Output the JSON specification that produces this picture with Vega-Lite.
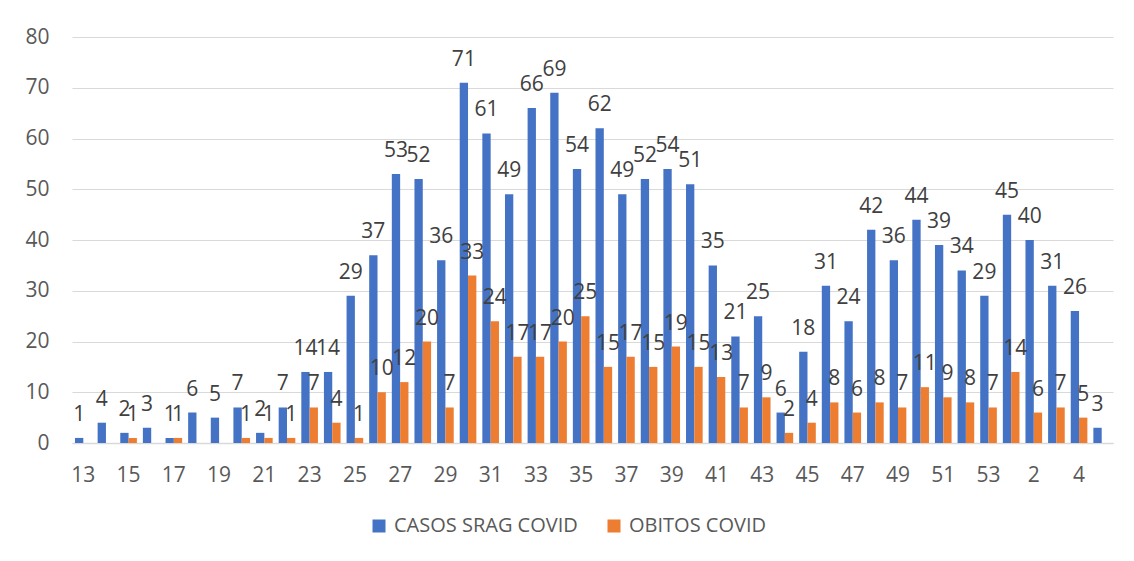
{
  "$schema": "https://vega.github.io/schema/vega-lite/v6.json",
  "width": 1041,
  "height": 406,
  "autosize": {"type": "none"},
  "padding": {"left": 72, "top": 37, "right": 21, "bottom": 118},
  "background": "white",
  "config": {
    "view": {"stroke": null},
    "font": "Open Sans"
  },
  "data": {
    "values": [
      {"semana": "13", "serie": "CASOS SRAG COVID", "valor": 1},
      {"semana": "14", "serie": "CASOS SRAG COVID", "valor": 4},
      {"semana": "15", "serie": "CASOS SRAG COVID", "valor": 2},
      {"semana": "15", "serie": "OBITOS COVID", "valor": 1},
      {"semana": "16", "serie": "CASOS SRAG COVID", "valor": 3},
      {"semana": "17", "serie": "CASOS SRAG COVID", "valor": 1},
      {"semana": "17", "serie": "OBITOS COVID", "valor": 1},
      {"semana": "18", "serie": "CASOS SRAG COVID", "valor": 6},
      {"semana": "19", "serie": "CASOS SRAG COVID", "valor": 5},
      {"semana": "20", "serie": "CASOS SRAG COVID", "valor": 7},
      {"semana": "20", "serie": "OBITOS COVID", "valor": 1},
      {"semana": "21", "serie": "CASOS SRAG COVID", "valor": 2},
      {"semana": "21", "serie": "OBITOS COVID", "valor": 1},
      {"semana": "22", "serie": "CASOS SRAG COVID", "valor": 7},
      {"semana": "22", "serie": "OBITOS COVID", "valor": 1},
      {"semana": "23", "serie": "CASOS SRAG COVID", "valor": 14},
      {"semana": "23", "serie": "OBITOS COVID", "valor": 7},
      {"semana": "24", "serie": "CASOS SRAG COVID", "valor": 14},
      {"semana": "24", "serie": "OBITOS COVID", "valor": 4},
      {"semana": "25", "serie": "CASOS SRAG COVID", "valor": 29},
      {"semana": "25", "serie": "OBITOS COVID", "valor": 1},
      {"semana": "26", "serie": "CASOS SRAG COVID", "valor": 37},
      {"semana": "26", "serie": "OBITOS COVID", "valor": 10},
      {"semana": "27", "serie": "CASOS SRAG COVID", "valor": 53},
      {"semana": "27", "serie": "OBITOS COVID", "valor": 12},
      {"semana": "28", "serie": "CASOS SRAG COVID", "valor": 52},
      {"semana": "28", "serie": "OBITOS COVID", "valor": 20},
      {"semana": "29", "serie": "CASOS SRAG COVID", "valor": 36},
      {"semana": "29", "serie": "OBITOS COVID", "valor": 7},
      {"semana": "30", "serie": "CASOS SRAG COVID", "valor": 71},
      {"semana": "30", "serie": "OBITOS COVID", "valor": 33},
      {"semana": "31", "serie": "CASOS SRAG COVID", "valor": 61},
      {"semana": "31", "serie": "OBITOS COVID", "valor": 24},
      {"semana": "32", "serie": "CASOS SRAG COVID", "valor": 49},
      {"semana": "32", "serie": "OBITOS COVID", "valor": 17},
      {"semana": "33", "serie": "CASOS SRAG COVID", "valor": 66},
      {"semana": "33", "serie": "OBITOS COVID", "valor": 17},
      {"semana": "34", "serie": "CASOS SRAG COVID", "valor": 69},
      {"semana": "34", "serie": "OBITOS COVID", "valor": 20},
      {"semana": "35", "serie": "CASOS SRAG COVID", "valor": 54},
      {"semana": "35", "serie": "OBITOS COVID", "valor": 25},
      {"semana": "36", "serie": "CASOS SRAG COVID", "valor": 62},
      {"semana": "36", "serie": "OBITOS COVID", "valor": 15},
      {"semana": "37", "serie": "CASOS SRAG COVID", "valor": 49},
      {"semana": "37", "serie": "OBITOS COVID", "valor": 17},
      {"semana": "38", "serie": "CASOS SRAG COVID", "valor": 52},
      {"semana": "38", "serie": "OBITOS COVID", "valor": 15},
      {"semana": "39", "serie": "CASOS SRAG COVID", "valor": 54},
      {"semana": "39", "serie": "OBITOS COVID", "valor": 19},
      {"semana": "40", "serie": "CASOS SRAG COVID", "valor": 51},
      {"semana": "40", "serie": "OBITOS COVID", "valor": 15},
      {"semana": "41", "serie": "CASOS SRAG COVID", "valor": 35},
      {"semana": "41", "serie": "OBITOS COVID", "valor": 13},
      {"semana": "42", "serie": "CASOS SRAG COVID", "valor": 21},
      {"semana": "42", "serie": "OBITOS COVID", "valor": 7},
      {"semana": "43", "serie": "CASOS SRAG COVID", "valor": 25},
      {"semana": "43", "serie": "OBITOS COVID", "valor": 9},
      {"semana": "44", "serie": "CASOS SRAG COVID", "valor": 6},
      {"semana": "44", "serie": "OBITOS COVID", "valor": 2},
      {"semana": "45", "serie": "CASOS SRAG COVID", "valor": 18},
      {"semana": "45", "serie": "OBITOS COVID", "valor": 4},
      {"semana": "46", "serie": "CASOS SRAG COVID", "valor": 31},
      {"semana": "46", "serie": "OBITOS COVID", "valor": 8},
      {"semana": "47", "serie": "CASOS SRAG COVID", "valor": 24},
      {"semana": "47", "serie": "OBITOS COVID", "valor": 6},
      {"semana": "48", "serie": "CASOS SRAG COVID", "valor": 42},
      {"semana": "48", "serie": "OBITOS COVID", "valor": 8},
      {"semana": "49", "serie": "CASOS SRAG COVID", "valor": 36},
      {"semana": "49", "serie": "OBITOS COVID", "valor": 7},
      {"semana": "50", "serie": "CASOS SRAG COVID", "valor": 44},
      {"semana": "50", "serie": "OBITOS COVID", "valor": 11},
      {"semana": "51", "serie": "CASOS SRAG COVID", "valor": 39},
      {"semana": "51", "serie": "OBITOS COVID", "valor": 9},
      {"semana": "52", "serie": "CASOS SRAG COVID", "valor": 34},
      {"semana": "52", "serie": "OBITOS COVID", "valor": 8},
      {"semana": "53", "serie": "CASOS SRAG COVID", "valor": 29},
      {"semana": "53", "serie": "OBITOS COVID", "valor": 7},
      {"semana": "1", "serie": "CASOS SRAG COVID", "valor": 45},
      {"semana": "1", "serie": "OBITOS COVID", "valor": 14},
      {"semana": "2", "serie": "CASOS SRAG COVID", "valor": 40},
      {"semana": "2", "serie": "OBITOS COVID", "valor": 6},
      {"semana": "3", "serie": "CASOS SRAG COVID", "valor": 31},
      {"semana": "3", "serie": "OBITOS COVID", "valor": 7},
      {"semana": "4", "serie": "CASOS SRAG COVID", "valor": 26},
      {"semana": "4", "serie": "OBITOS COVID", "valor": 5},
      {"semana": "5", "serie": "CASOS SRAG COVID", "valor": 3}
    ]
  },
  "encoding": {
    "x": {
      "field": "semana",
      "type": "nominal",
      "sort": ["13","14","15","16","17","18","19","20","21","22","23","24","25","26","27","28","29","30","31","32","33","34","35","36","37","38","39","40","41","42","43","44","45","46","47","48","49","50","51","52","53","1","2","3","4","5"],
      "scale": {"paddingInner": 0.265, "paddingOuter": 0.1325},
      "axis": {
        "title": null,
        "values": ["13","15","17","19","21","23","25","27","29","31","33","35","37","39","41","43","45","47","49","51","53","2","4"],
        "labelAngle": 0,
        "ticks": false,
        "labelFont": "Open Sans",
        "labelFontSize": 21,
        "labelColor": "#595959",
        "labelPadding": 21,
        "domainColor": "#d9d9d9",
        "domainWidth": 1.5,
        "grid": false
      }
    },
    "xOffset": {
      "field": "serie",
      "type": "nominal",
      "sort": ["CASOS SRAG COVID", "OBITOS COVID"],
      "scale": {"domain": ["CASOS SRAG COVID", "OBITOS COVID"], "paddingInner": 0, "paddingOuter": 0}
    },
    "y": {
      "field": "valor",
      "type": "quantitative",
      "scale": {"domain": [0, 80], "nice": false},
      "axis": {
        "title": null,
        "values": [0, 10, 20, 30, 40, 50, 60, 70, 80],
        "domain": false,
        "ticks": false,
        "labelFont": "Open Sans",
        "labelFontSize": 21,
        "labelColor": "#595959",
        "labelPadding": 23,
        "gridColor": "#d9d9d9",
        "gridWidth": 1
      }
    }
  },
  "layer": [
    {
      "mark": {"type": "bar"},
      "encoding": {
        "color": {
          "field": "serie",
          "type": "nominal",
          "scale": {"domain": ["CASOS SRAG COVID", "OBITOS COVID"], "range": ["#4472C4", "#ED7D31"]},
          "legend": {
            "title": null,
            "orient": "none",
            "legendX": 297,
            "legendY": 479,
            "direction": "horizontal",
            "symbolType": "square",
            "symbolSize": 169,
            "symbolStrokeWidth": 0,
            "labelFont": "Open Sans",
            "labelFontSize": 20,
            "labelColor": "#595959",
            "labelLimit": 0,
            "labelOffset": 5,
            "columnPadding": 26
          }
        }
      }
    },
    {
      "mark": {"type": "text", "baseline": "alphabetic", "dy": -17, "fontSize": 21, "font": "Open Sans", "color": "#404040"},
      "encoding": {
        "text": {"field": "valor", "type": "quantitative"}
      }
    }
  ]
}
